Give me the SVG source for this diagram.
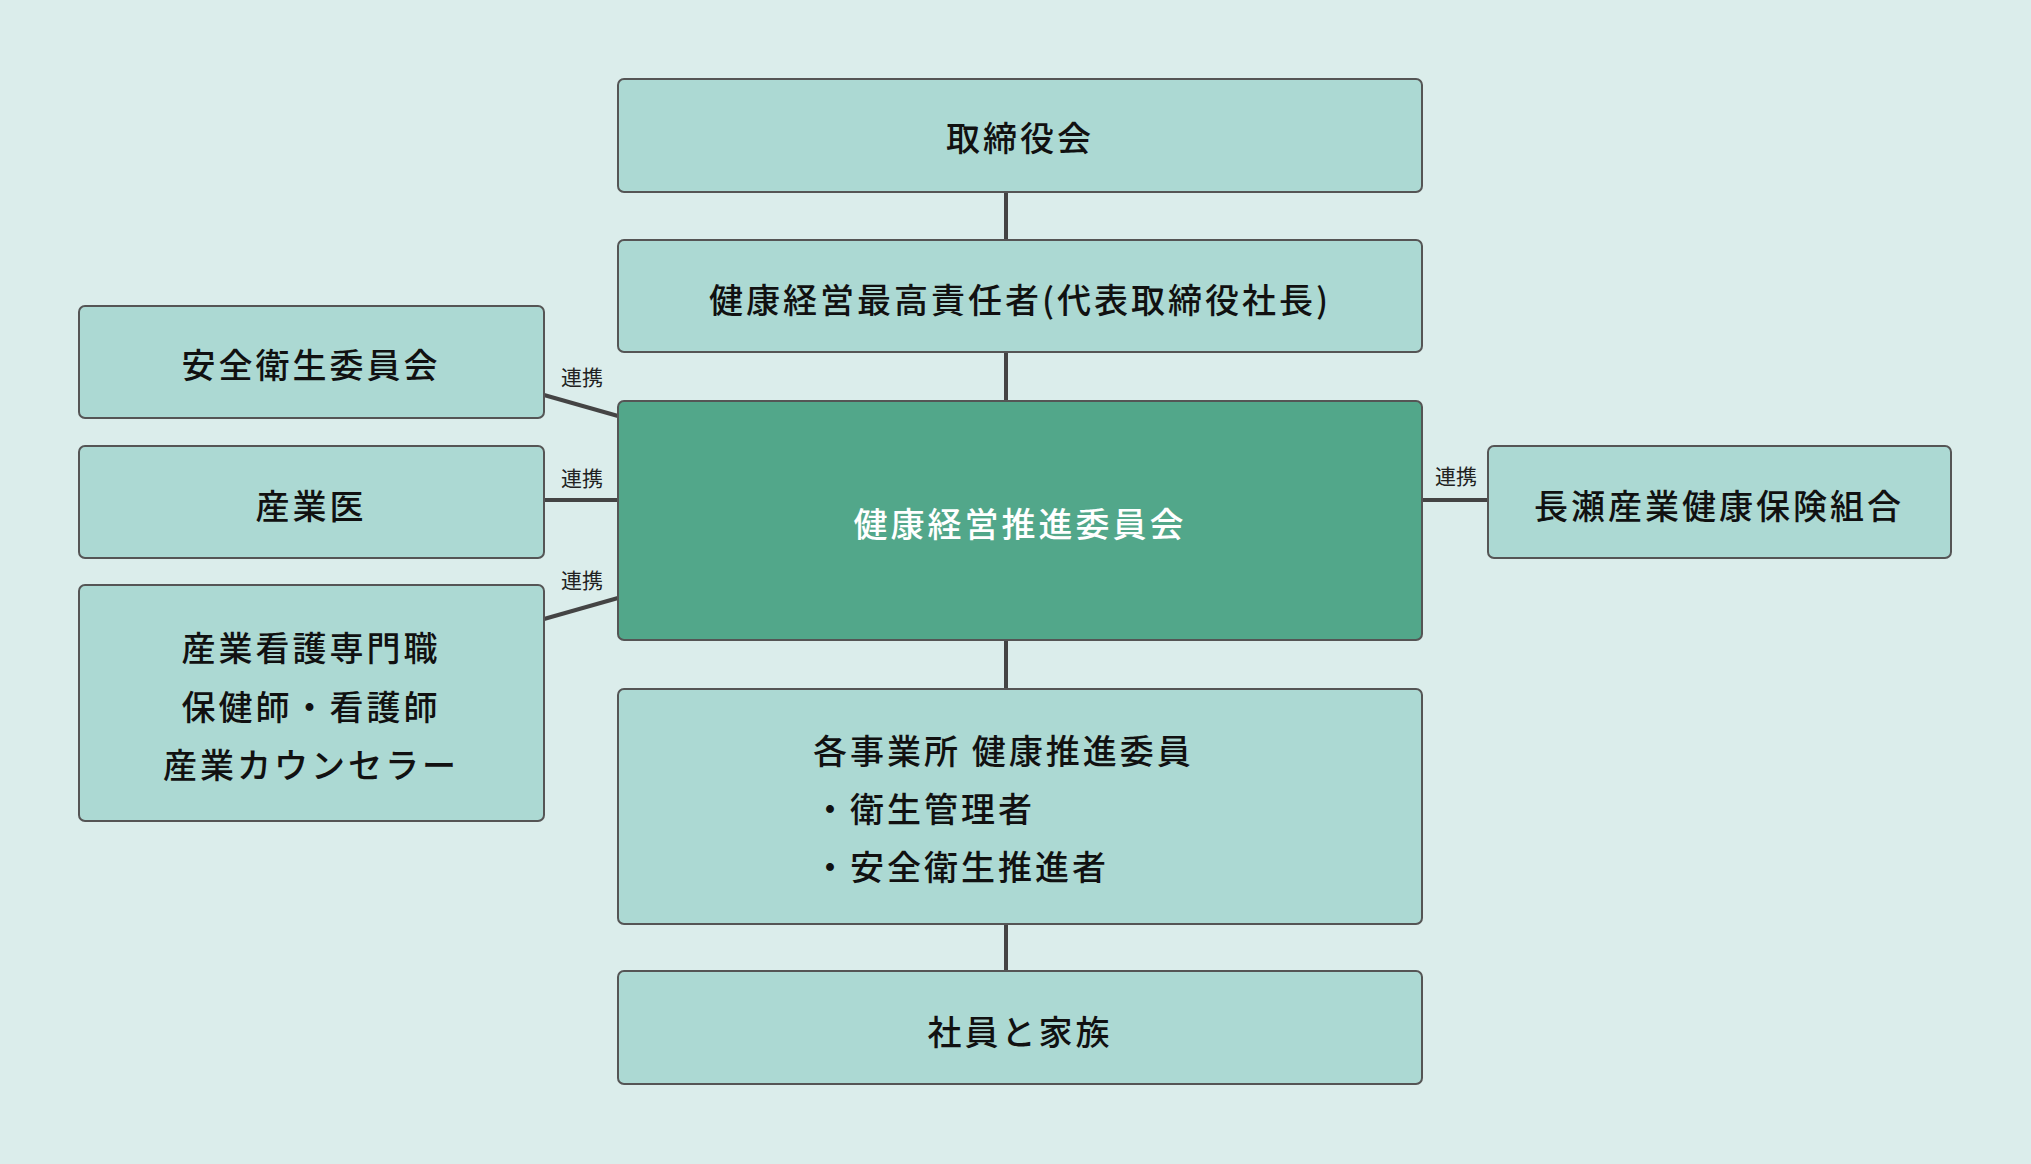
<svg xmlns="http://www.w3.org/2000/svg" width="2031" height="1164" viewBox="0 0 2031 1164">
<style>
.b{fill:#acd9d3;stroke:#555;stroke-width:2}
.m{fill:#52a78a;stroke:#555;stroke-width:2}
.t{font-family:"Noto Sans CJK JP",sans-serif;font-size:34px;font-weight:500;fill:#111;letter-spacing:3px;dominant-baseline:central}
.c{text-anchor:middle}
.l{font-family:"Noto Sans CJK JP",sans-serif;font-size:21px;fill:#222;text-anchor:middle;dominant-baseline:central}
.k{stroke:#444;stroke-width:4;fill:none}
</style>
<rect width="2031" height="1164" fill="#dbedeb"/>
<g id="connectors">
<line class="k" x1="1006" y1="192" x2="1006" y2="240"/>
<line class="k" x1="1006" y1="352" x2="1006" y2="401"/>
<line class="k" x1="1006" y1="640" x2="1006" y2="689"/>
<line class="k" x1="1006" y1="924" x2="1006" y2="971"/>
<line class="k" x1="544" y1="395" x2="618" y2="416"/>
<line class="k" x1="544" y1="500" x2="618" y2="500"/>
<line class="k" x1="544" y1="619" x2="618" y2="598"/>
<line class="k" x1="1422" y1="500" x2="1488" y2="500"/>
<text class="l" x="582" y="376">連携</text>
<text class="l" x="582" y="477">連携</text>
<text class="l" x="582" y="579">連携</text>
<text class="l" x="1456" y="475">連携</text>
</g>
<g id="n1"><rect class="b" x="618" y="79" width="804" height="113" rx="6"/><text class="t c" x="1020" y="136">取締役会</text></g>
<g id="n2"><rect class="b" x="618" y="240" width="804" height="112" rx="6"/><text class="t c" x="1020" y="298">健康経営最高責任者(代表取締役社長)</text></g>
<g id="n3"><rect class="m" x="618" y="401" width="804" height="239" rx="6"/><text class="t c" x="1020" y="522" style="fill:#fff">健康経営推進委員会</text></g>
<g id="n4"><rect class="b" x="618" y="689" width="804" height="235" rx="6"/><text class="t" x="813" y="749">各事業所  健康推進委員</text><text class="t" x="813" y="807">・衛生管理者</text><text class="t" x="813" y="865">・安全衛生推進者</text></g>
<g id="n5"><rect class="b" x="618" y="971" width="804" height="113" rx="6"/><text class="t c" x="1020" y="1030">社員と家族</text></g>
<g id="n6"><rect class="b" x="79" y="306" width="465" height="112" rx="6"/><text class="t c" x="311" y="363">安全衛生委員会</text></g>
<g id="n7"><rect class="b" x="79" y="446" width="465" height="112" rx="6"/><text class="t c" x="311" y="504">産業医</text></g>
<g id="n8"><rect class="b" x="79" y="585" width="465" height="236" rx="6"/><text class="t c" x="311" y="646">産業看護専門職</text><text class="t c" x="311" y="705">保健師・看護師</text><text class="t c" x="311" y="763">産業カウンセラー</text></g>
<g id="n9"><rect class="b" x="1488" y="446" width="463" height="112" rx="6"/><text class="t c" x="1719" y="504">長瀬産業健康保険組合</text></g>
</svg>
